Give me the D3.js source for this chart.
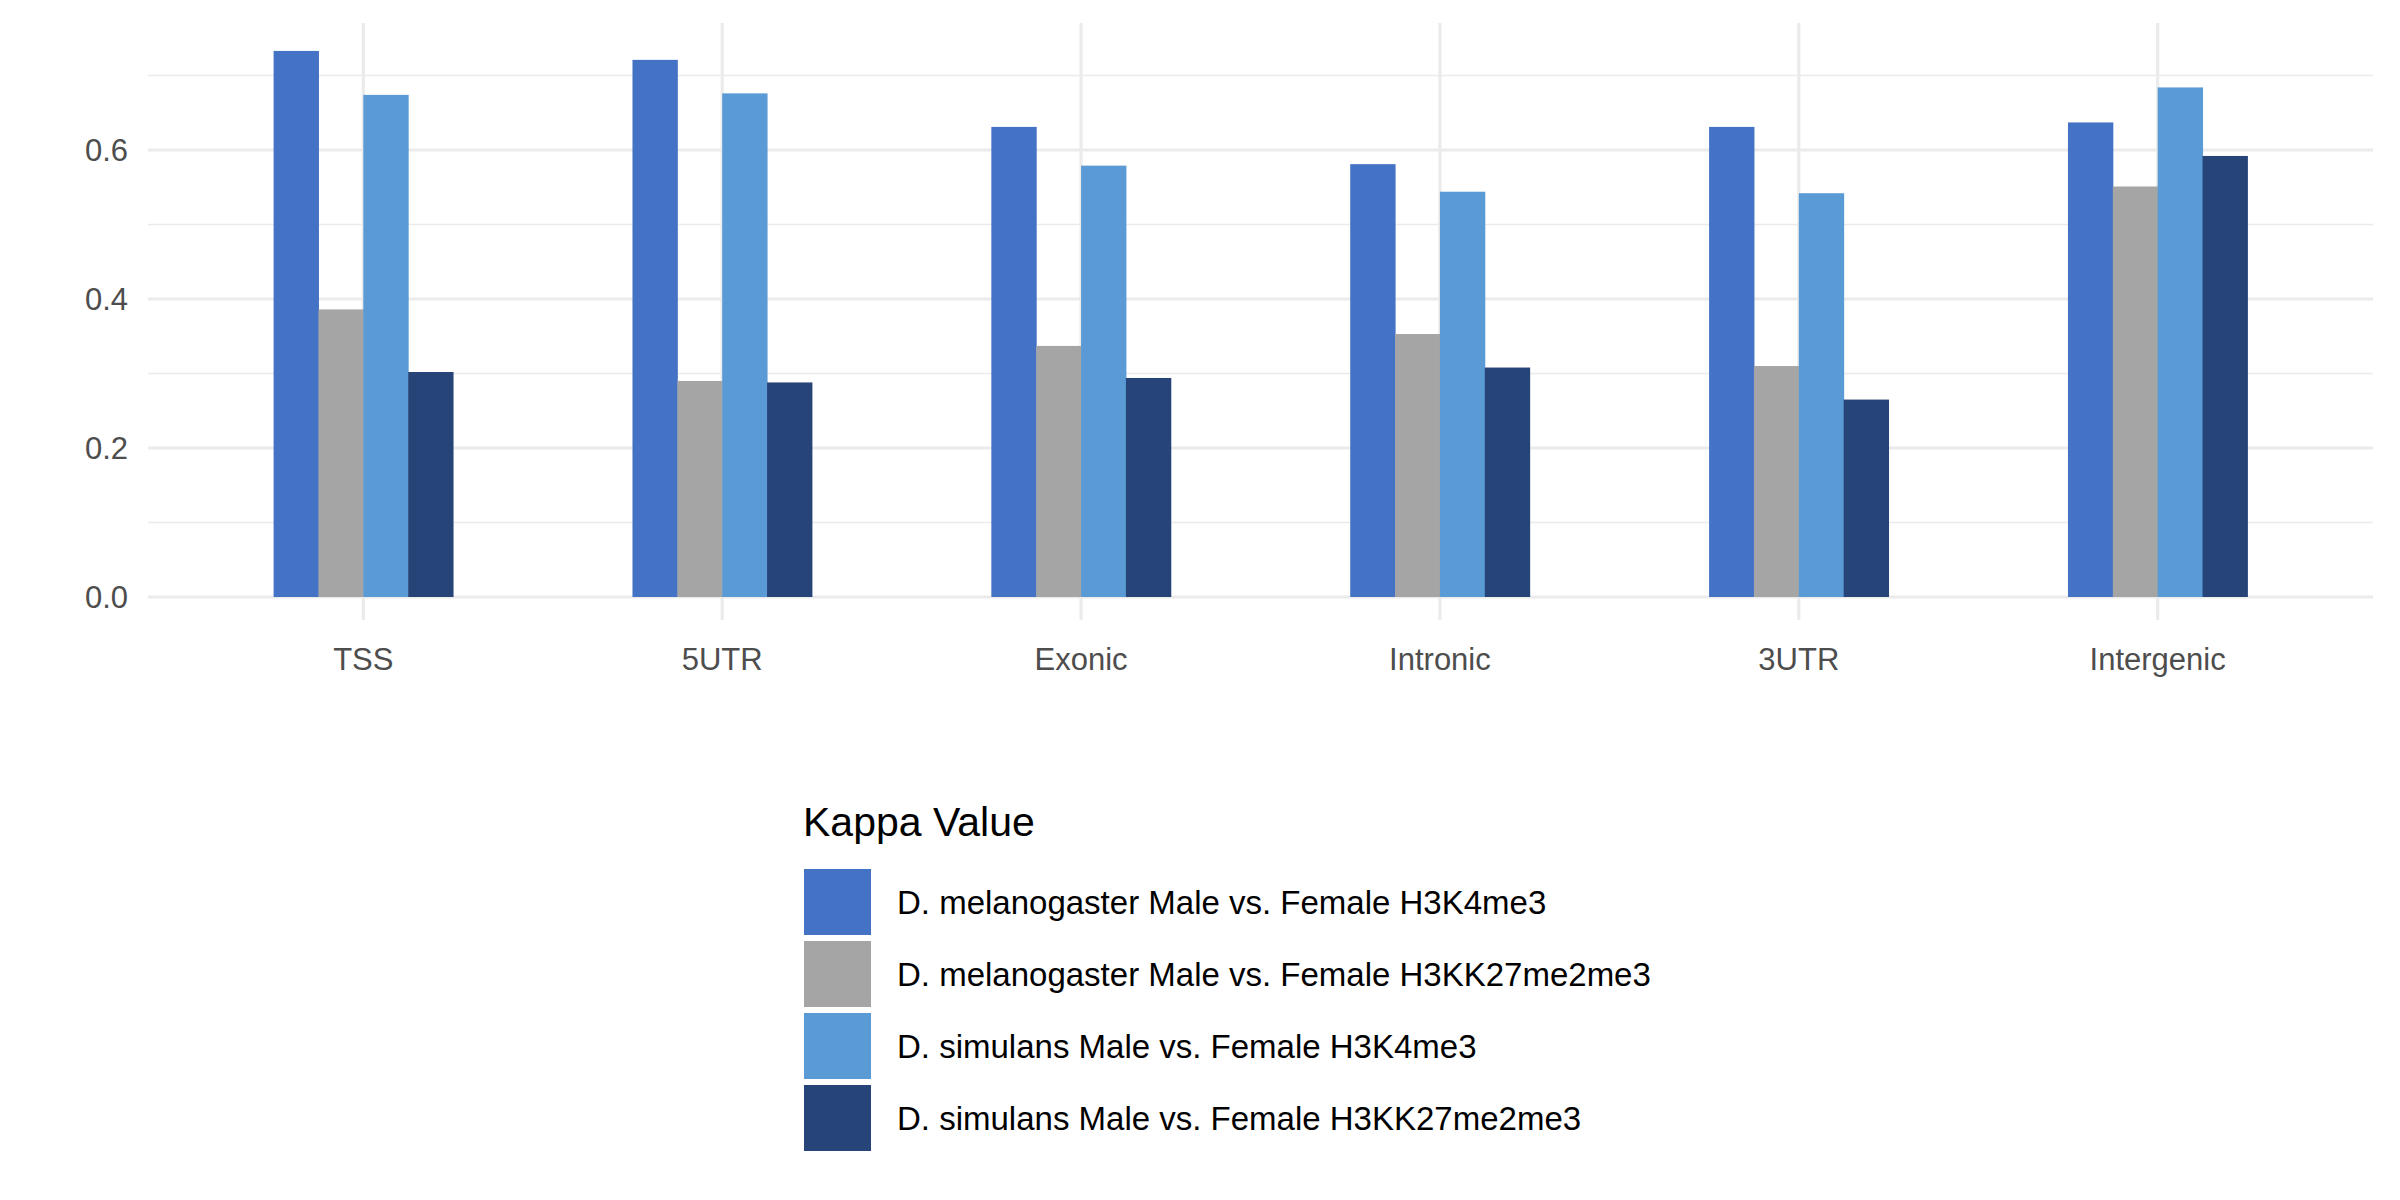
<!DOCTYPE html>
<html><head><meta charset="utf-8">
<script src="https://cdn.jsdelivr.net/npm/d3@7"></script>
<style>body{margin:0;background:#fff}text{font-family:"Liberation Sans",Arial,sans-serif}</style>
</head><body><svg id="c" width="2400" height="1200"></svg>
<script>
const categories=["TSS","5UTR","Exonic","Intronic","3UTR","Intergenic"];
const seriesNames=["D. melanogaster Male vs. Female H3K4me3","D. melanogaster Male vs. Female H3KK27me2me3","D. simulans Male vs. Female H3K4me3","D. simulans Male vs. Female H3KK27me2me3"];
const colors=["#4472C4","#A5A5A5","#5B9BD5","#264478"];
const melH3K4=[0.733,0.721,0.631,0.581,0.631,0.637];
const melK27=[0.386,0.290,0.337,0.353,0.310,0.551];
const simH3K4=[0.674,0.676,0.579,0.544,0.542,0.684];
const simK27=[0.302,0.288,0.294,0.308,0.265,0.592];
const series=[melH3K4,melK27,simH3K4,simK27];
const yTicks=[0,0.2,0.4,0.6];
const yMinor=[0.1,0.3,0.5,0.7];

const svg=d3.select("#c");
const L=148,R=2373,T=23,B=620;
const x=d3.scaleBand().domain(categories).range([L,R]).paddingOuter(0.1).paddingInner(0);
// use explicit centers via band
const y=d3.scaleLinear().domain([0,0.6]).range([597,150]);
const g=svg.append("g");
yMinor.forEach(v=>g.append("line").attr("x1",L).attr("x2",R).attr("y1",y(v)).attr("y2",y(v)).attr("stroke","#ebebeb").attr("stroke-width",1.6));
yTicks.forEach(v=>g.append("line").attr("x1",L).attr("x2",R).attr("y1",y(v)).attr("y2",y(v)).attr("stroke","#ebebeb").attr("stroke-width",3.2));
categories.forEach(c=>{const cx=x(c)+x.bandwidth()/2;g.append("line").attr("x1",cx).attr("x2",cx).attr("y1",T).attr("y2",B).attr("stroke","#ebebeb").attr("stroke-width",3.2);});
const sub=d3.scaleBand().domain(d3.range(4)).range([0,x.bandwidth()*0.5]);
series.forEach((s,i)=>{
  g.selectAll(null).data(s).enter().append("rect")
   .attr("x",(d,j)=>x(categories[j])+x.bandwidth()*0.25+sub(i))
   .attr("width",sub.bandwidth()+0.5)
   .attr("y",d=>y(d)).attr("height",d=>y(0)-y(d)).attr("fill",colors[i]);
});
yTicks.forEach(v=>g.append("text").attr("x",L-20).attr("y",y(v)).attr("dy","0.35em").attr("text-anchor","end").attr("font-size",31).attr("fill","#4d4d4d").text(v.toFixed(1)));
categories.forEach(c=>g.append("text").attr("x",x(c)+x.bandwidth()/2).attr("y",670).attr("text-anchor","middle").attr("font-size",31).attr("fill","#4d4d4d").text(c));
const lg=svg.append("g");
lg.append("text").attr("x",803).attr("y",836).attr("font-size",41).attr("fill","#000").text("Kappa Value");
seriesNames.forEach((n,i)=>{
  const yy=869+i*72;
  lg.append("rect").attr("x",804).attr("y",yy).attr("width",67).attr("height",66).attr("fill",colors[i]);
  lg.append("text").attr("x",897).attr("y",yy+33).attr("dy","0.35em").attr("font-size",33).attr("fill","#000").text(n);
});
</script></body></html>
